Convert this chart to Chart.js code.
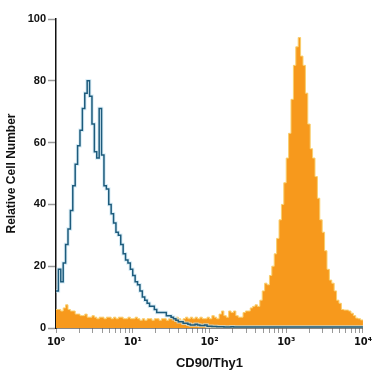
<!DOCTYPE html>
<html>
<head>
<meta charset="utf-8">
<script src="https://cdn.jsdelivr.net/npm/chart.js@4"></script>
<style>
  html, body { margin: 0; padding: 0; background: #fff; }
  #wrap { width: 375px; height: 375px; }
</style>
</head>
<body>
<div id="wrap"><canvas id="chart-cd90" width="375" height="375"></canvas></div>
<script>
// 128 channels over 4 decades (32 per decade), values = relative cell number
const binsPerDecade = 32;
const decadeLabels = ['10\u2070', '10\u00b9', '10\u00b2', '10\u00b3', '10\u2074'];

// orange filled histogram (CD90/Thy1 stained)
const stainedCounts = [
  6, 6, 5.5, 6.5, 7.5, 6, 5.5, 5.5, 4.5, 4.5, 4, 4, 4.5, 3.5, 3.5, 4,
  3.5, 3, 3.5, 3.5, 3, 3.5, 3.5, 3, 3.5, 3, 3.5, 3.5, 3, 3, 3.5, 3,
  3, 3.5, 3, 2.5, 3, 2.5, 3, 3, 2.5, 3, 3, 2.5, 3, 3, 2.5, 3,
  3.5, 3, 3.5, 3, 2.5, 3, 3.5, 3, 3.5, 3, 3.5, 3, 3.5, 3, 3, 3.5,
  3, 4, 3.5, 3, 4.5, 5.5, 4, 3.5, 5.5, 5, 5.5, 4, 3.5, 3.5, 5, 5.5,
  5.5, 6.5, 7, 7.5, 7, 9, 12, 14.5, 14, 17, 20, 24, 29, 35, 40, 47,
  55, 63, 74, 85, 91, 94, 88, 85, 76, 66, 58, 55, 49, 42, 35, 31,
  25, 19, 15.5, 14.5, 12, 9, 8, 6, 5.8, 5.8, 5.5, 4.8, 4, 3.2, 3, 2.6
];

// blue outline histogram (isotype control)
const controlCounts = [
  12, 19, 15, 21, 27, 32, 38, 46, 53, 59, 64, 71, 76, 80, 75, 66,
  57, 55, 71, 56, 46, 45, 40, 37, 34, 31, 30, 27, 24, 22, 21, 19,
  17, 15, 14, 12, 10, 9, 8, 7, 7, 6, 5, 5, 5, 5, 4, 4,
  3.5, 3, 2.5, 2, 2, 1.5, 1.5, 1.2, 1, 1, 1.2, 1, 0.8, 0.8, 1, 0.6,
  0.6, 0.5, 0.5, 0.4, 0.4, 0.4, 0.3, 0.3, 0.3, 0.4, 0.3, 0.3, 0.3, 0.3, 0.3, 0.3,
  0.3, 0.3, 0.3, 0.3, 0.3, 0.3, 0.3, 0.3, 0.3, 0.3, 0.3, 0.3, 0.3, 0.3, 0.3, 0.3,
  0.3, 0.3, 0.3, 0.3, 0.3, 0.3, 0.3, 0.3, 0.3, 0.3, 0.3, 0.3, 0.3, 0.3, 0.3, 0.3,
  0.3, 0.3, 0.3, 0.3, 0.3, 0.3, 0.3, 0.3, 0.3, 0.3, 0.3, 0.3, 0.3, 0.3, 0.3, 0.3
];

const yTicks = [0, 20, 40, 60, 80, 100];

// x is log10 of fluorescence; each point marks the start of its channel
function toPoints(counts) {
  const pts = counts.map((v, i) => ({ x: i / binsPerDecade, y: v }));
  pts.push({ x: counts.length / binsPerDecade, y: counts[counts.length - 1] });
  return pts;
}

const fontFamily = '"Liberation Sans", Arial, sans-serif';
const tickFamily = '"DejaVu Sans Condensed", "DejaVu Sans", sans-serif';

const ctx = document.getElementById('chart-cd90').getContext('2d');
new Chart(ctx, {
  type: 'line',
  data: {
    datasets: [
      {
        label: 'Control',
        data: toPoints(controlCounts),
        stepped: true,
        borderColor: '#1d5b7c',
        borderWidth: 1.5,
        pointRadius: 0,
        fill: false,
        order: 0
      },
      {
        label: 'Control halo',
        data: toPoints(controlCounts),
        stepped: true,
        borderColor: 'rgba(200, 230, 243, 0.7)',
        borderWidth: 3.5,
        pointRadius: 0,
        fill: false,
        order: 1
      },
      {
        label: 'CD90/Thy1',
        data: toPoints(stainedCounts),
        stepped: true,
        borderColor: '#f9cf6e',
        borderWidth: 1,
        backgroundColor: '#f7991c',
        pointRadius: 0,
        fill: 'origin',
        order: 2
      }
    ]
  },
  options: {
    responsive: false,
    animation: false,
    layout: { padding: { left: 0, top: 19, right: 8, bottom: 0 } },
    plugins: {
      legend: { display: false },
      tooltip: { enabled: false }
    },
    scales: {
      x: {
        type: 'linear',
        min: 0,
        max: 4,
        afterFit: function (scale) { scale.height = 47; },
        afterBuildTicks: function (scale) {
          const ticks = [];
          for (let d = 0; d < 4; d++) {
            for (let k = 1; k < 10; k++) ticks.push({ value: d + Math.log10(k) });
          }
          ticks.push({ value: 4 });
          scale.ticks = ticks;
        },
        ticks: {
          autoSkip: false,
          maxRotation: 0,
          padding: 3,
          color: '#111',
          font: { family: tickFamily, size: 11, weight: 'bold' },
          callback: function (value) {
            const r = Math.round(value);
            return Math.abs(value - r) < 1e-6 ? decadeLabels[r] : '';
          }
        },
        grid: {
          drawOnChartArea: false,
          drawTicks: true,
          tickLength: 5,
          tickColor: '#9a9a9a',
          tickWidth: 1
        },
        border: { color: '#111', width: 1.5 },
        title: {
          display: true,
          text: 'CD90/Thy1',
          color: '#111',
          padding: { top: 2 },
          font: { family: fontFamily, size: 13, weight: 'bold' }
        }
      },
      y: {
        min: 0,
        max: 100,
        afterFit: function (scale) { scale.width = 56; },
        afterBuildTicks: function (scale) {
          scale.ticks = yTicks.map(v => ({ value: v }));
        },
        ticks: {
          padding: 2,
          color: '#111',
          font: { family: fontFamily, size: 11, weight: 'bold' }
        },
        grid: {
          drawOnChartArea: false,
          drawTicks: true,
          tickLength: 8,
          tickColor: '#9a9a9a',
          tickWidth: 1.5
        },
        border: { color: '#111', width: 1.5 },
        title: {
          display: true,
          text: 'Relative Cell Number',
          color: '#111',
          padding: { bottom: 4 },
          font: { family: fontFamily, size: 12, weight: 'bold' }
        }
      }
    }
  }
});
</script>
</body>
</html>
